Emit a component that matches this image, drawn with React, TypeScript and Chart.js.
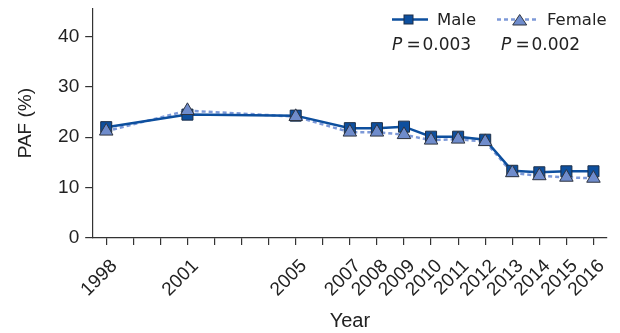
import React, { useEffect, useRef } from "react";
import { Chart, registerables } from "chart.js";
Chart.register(...registerables);

const years = [1998, 2001, 2005, 2007, 2008, 2009, 2010, 2011, 2012, 2013, 2014, 2015, 2016];
const maleValues = [22.0, 24.5, 24.3, 21.8, 21.8, 22.1, 20.1, 20.1, 19.5, 13.3, 13.0, 13.2, 13.2];
const femaleValues = [21.2, 25.3, 24.1, 21.0, 21.0, 20.5, 19.4, 19.6, 19.1, 12.9, 12.3, 12.0, 11.8];
const tickYears = [1998, 1999, 2000, 2001, 2002, 2003, 2004, 2005, 2006, 2007, 2008, 2009, 2010, 2011, 2012, 2013, 2014, 2015, 2016];
const yTicks = [0, 10, 20, 30, 40];
const seriesNames = ["Male", "Female"];
const pValues = ["0.003", "0.002"];

const MALE = "#0d4f9e";
const MALE_EDGE = "#1d2f48";
const FEMALE_LINE = "#7d99d8";
const FEMALE_FILL = "#6f8ccc";
const FEMALE_EDGE = "#2e3440";
const TEXT = "#222";
const AXIS = "#333";
const LEGEND_FONT = "'DejaVu Sans'";

const legendPlugin = {
  id: "customLegend",
  afterDraw(chart: any) {
    const ctx = chart.ctx as CanvasRenderingContext2D;
    ctx.save();
    const rowY = 19.5;
    // Male
    ctx.strokeStyle = MALE;
    ctx.lineWidth = 2.5;
    ctx.setLineDash([]);
    ctx.beginPath();
    ctx.moveTo(392, rowY);
    ctx.lineTo(428, rowY);
    ctx.stroke();
    ctx.fillStyle = MALE;
    ctx.strokeStyle = MALE_EDGE;
    ctx.lineWidth = 1;
    ctx.fillRect(404, rowY - 4.5, 9, 9);
    ctx.strokeRect(404, rowY - 4.5, 9, 9);
    // Female
    ctx.strokeStyle = FEMALE_LINE;
    ctx.lineWidth = 2.5;
    ctx.setLineDash([4, 3]);
    ctx.beginPath();
    ctx.moveTo(497, rowY);
    ctx.lineTo(538, rowY);
    ctx.stroke();
    ctx.setLineDash([]);
    ctx.beginPath();
    ctx.moveTo(519.7, 14.5);
    ctx.lineTo(526.7, 25);
    ctx.lineTo(512.7, 25);
    ctx.closePath();
    ctx.fillStyle = FEMALE_FILL;
    ctx.fill();
    ctx.strokeStyle = FEMALE_EDGE;
    ctx.lineWidth = 1;
    ctx.stroke();
    // texts
    ctx.fillStyle = TEXT;
    ctx.textBaseline = "alphabetic";
    ctx.textAlign = "left";
    ctx.font = "16.5px " + LEGEND_FONT;
    ctx.fillText(seriesNames[0], 437, 25);
    ctx.fillText(seriesNames[1], 547, 25);
    const pxs = [392, 501];
    pValues.forEach((pv, i) => {
      ctx.font = "italic 17px " + LEGEND_FONT;
      ctx.fillText("P", pxs[i], 50);
      ctx.font = "17px " + LEGEND_FONT;
      ctx.fillText("=", pxs[i] + 14.5, 50);
      ctx.fillText(pv, pxs[i] + 30.5, 50);
    });
    ctx.restore();
  },
};

export default function App() {
  const ref = useRef<HTMLCanvasElement>(null);
  useEffect(() => {
    const canvas = ref.current;
    if (!canvas) return;
    const male = years.map((y, i) => ({ x: y, y: maleValues[i] }));
    const female = years.map((y, i) => ({ x: y, y: femaleValues[i] }));
    const tickFont = { family: "'Liberation Sans', Arial, sans-serif", size: 19 };
    const chart = new Chart(canvas, {
      type: "line",
      data: {
        datasets: [
          {
            label: "Male line",
            data: male,
            borderColor: MALE,
            borderWidth: 2.5,
            pointRadius: 0,
            tension: 0,
            order: 3,
          },
          {
            label: "Female line",
            data: female,
            borderColor: FEMALE_LINE,
            borderWidth: 2.5,
            borderDash: [4, 3],
            pointRadius: 0,
            tension: 0,
            order: 4,
          },
          {
            label: "Male",
            data: male,
            showLine: false,
            pointStyle: "rect",
            pointRadius: 7.8,
            pointBackgroundColor: MALE,
            pointBorderColor: MALE_EDGE,
            pointBorderWidth: 1,
            order: 2,
          },
          {
            label: "Female",
            data: female,
            showLine: false,
            pointStyle: "triangle",
            pointRadius: 7.8,
            pointBackgroundColor: FEMALE_FILL,
            pointBorderColor: FEMALE_EDGE,
            pointBorderWidth: 1,
            order: 1,
          },
        ] as any,
      },
      options: {
        animation: false,
        responsive: false,
        events: [],
        layout: { padding: { top: 7, right: 13, left: 0, bottom: 0 } },
        plugins: { legend: { display: false }, tooltip: { enabled: false } },
        scales: {
          x: {
            type: "linear",
            min: 1997.5,
            max: 2016.5,
            afterBuildTicks: (s: any) => {
              s.ticks = tickYears.map((v) => ({ value: v }));
            },
            afterFit: (s: any) => {
              s.height = 95.5;
              s.paddingLeft = 0;
              s.paddingRight = 0;
            },
            ticks: {
              autoSkip: false,
              minRotation: 45,
              maxRotation: 45,
              font: tickFont,
              color: TEXT,
              padding: 10,
              labelOffset: 8,
              callback: (v: any) => (years.includes(Number(v)) ? String(v) : ""),
            },
            grid: { drawOnChartArea: false, tickLength: 7.5, color: AXIS, lineWidth: 1.2 },
            border: { color: AXIS, width: 1.2 },
            title: {
              display: true,
              text: "Year",
              font: { family: "'Liberation Sans', Arial, sans-serif", size: 20 },
              color: TEXT,
              padding: { top: 0, bottom: 0 },
            },
          },
          y: {
            min: 0,
            max: 45.6,
            afterBuildTicks: (s: any) => {
              s.ticks = yTicks.map((v) => ({ value: v }));
            },
            afterFit: (s: any) => {
              s.width = 92.7;
              s.paddingTop = 0;
              s.paddingBottom = 0;
            },
            ticks: { font: tickFont, color: TEXT, padding: 6 },
            grid: { drawOnChartArea: false, tickLength: 7.5, color: AXIS, lineWidth: 1.2 },
            border: { color: AXIS, width: 1.2 },
            title: {
              display: true,
              text: "PAF (%)",
              font: { family: "'Liberation Sans', Arial, sans-serif", size: 19 },
              color: TEXT,
              padding: { top: 14, bottom: 0 },
            },
          },
        },
      } as any,
      plugins: [legendPlugin],
    });
    return () => chart.destroy();
  }, []);
  return (
    <div style={{ position: "absolute", left: 0, top: 0, width: 620, height: 333 }}>
      <canvas ref={ref} width={620} height={333} style={{ display: "block" }} />
    </div>
  );
}
